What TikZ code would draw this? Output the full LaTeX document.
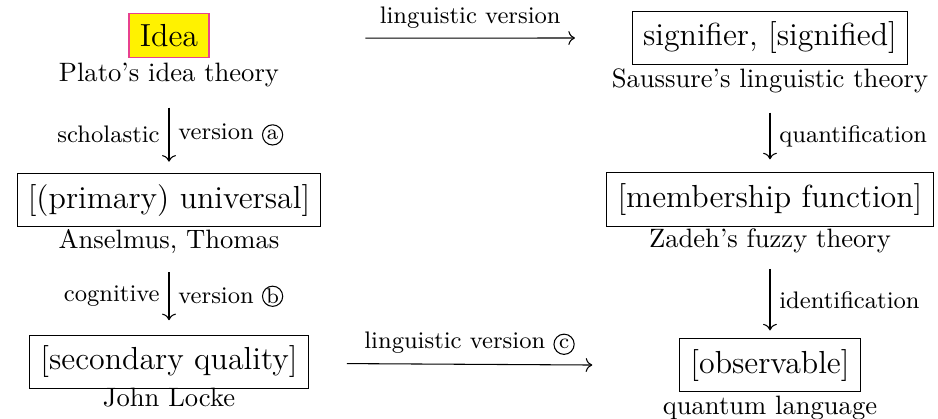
\documentclass[tikz,border=0pt]{standalone}
\usepackage{tikz}
\usepackage{xcolor}
\usetikzlibrary{arrows.meta, positioning}
\definecolor{clrIdea}{HTML}{FFF200}
\definecolor{clrIdeaRim}{HTML}{E8418F}
\newcommand{\circlbl}[1]{\tikz[baseline=(cl.base)]\node[circle, draw, line width=0.4pt, inner sep=0pt, minimum size=7.6pt, font=\footnotesize] (cl) {#1};}

\begin{document}
\begin{tikzpicture}[
    concept/.style={rectangle, draw=black, line width=0.4pt, font=\large, inner sep=4pt},
    ideabox/.style={concept, draw=clrIdeaRim, fill=clrIdea, line width=0.6pt},
    theory/.style={anchor=base, inner sep=1pt, font=\normalsize},
    arrow/.style={-{Computer Modern Rightarrow}, line width=0.4pt},
    lbl/.style={font=\small},
]
\useasboundingbox (0, 0) rectangle (12.394, -5.536);

% left column
\node[ideabox] (idea) at (2.233, -0.469) {Idea};
\node[theory] (plato) at (2.233, -1.083) {Plato's idea theory};
\node[concept] (prim) at (2.233, -2.643) {[(primary) universal]};
\node[theory] (anselm) at (2.233, -3.277) {Anselmus, Thomas};
\node[concept] (sec) at (2.233, -4.783) {[secondary quality]};
\node[theory] (locke) at (2.233, -5.370) {John Locke};

% right column
\node[concept] (sig) at (10.174, -0.502) {signifier, [signified]};
\node[theory] (saussure) at (10.174, -1.150) {Saussure's linguistic theory};
\node[concept] (memb) at (10.174, -2.636) {[membership function]};
\node[theory] (zadeh) at (10.174, -3.264) {Zadeh's fuzzy theory};
\node[concept] (obs) at (10.174, -4.823) {[observable]};
\node[theory] (qlang) at (10.174, -5.483) {quantum language};

% vertical arrows
\draw[arrow] ([yshift=-6.4pt]plato.south) -- node[lbl, left] {scholastic} node[lbl, right] {version \circlbl{a}} ([yshift=4.2pt]prim.north);
\draw[arrow] ([yshift=-6pt]anselm.south) -- node[lbl, left] {cognitive} node[lbl, right] {version \circlbl{b}} ([yshift=5.5pt]sec.north);
\draw[arrow] ([yshift=-6.4pt]saussure.south) -- node[lbl, right] {quantification} ([yshift=4.9pt]memb.north);
\draw[arrow] ([yshift=-5pt]zadeh.south) -- node[lbl, right] {identification} ([yshift=2.8pt]obs.north);

% horizontal arrows
\draw[arrow] ([xshift=58.6pt, yshift=-1pt]idea.east) -- node[lbl, above] {linguistic version} ([xshift=-21.4pt]sig.west);
\draw[arrow] ([xshift=14.3pt, yshift=-0.6pt]sec.east) -- node[lbl, above] {linguistic version \circlbl{c}} ([xshift=-32.7pt]obs.west);

\end{tikzpicture}
\end{document}
